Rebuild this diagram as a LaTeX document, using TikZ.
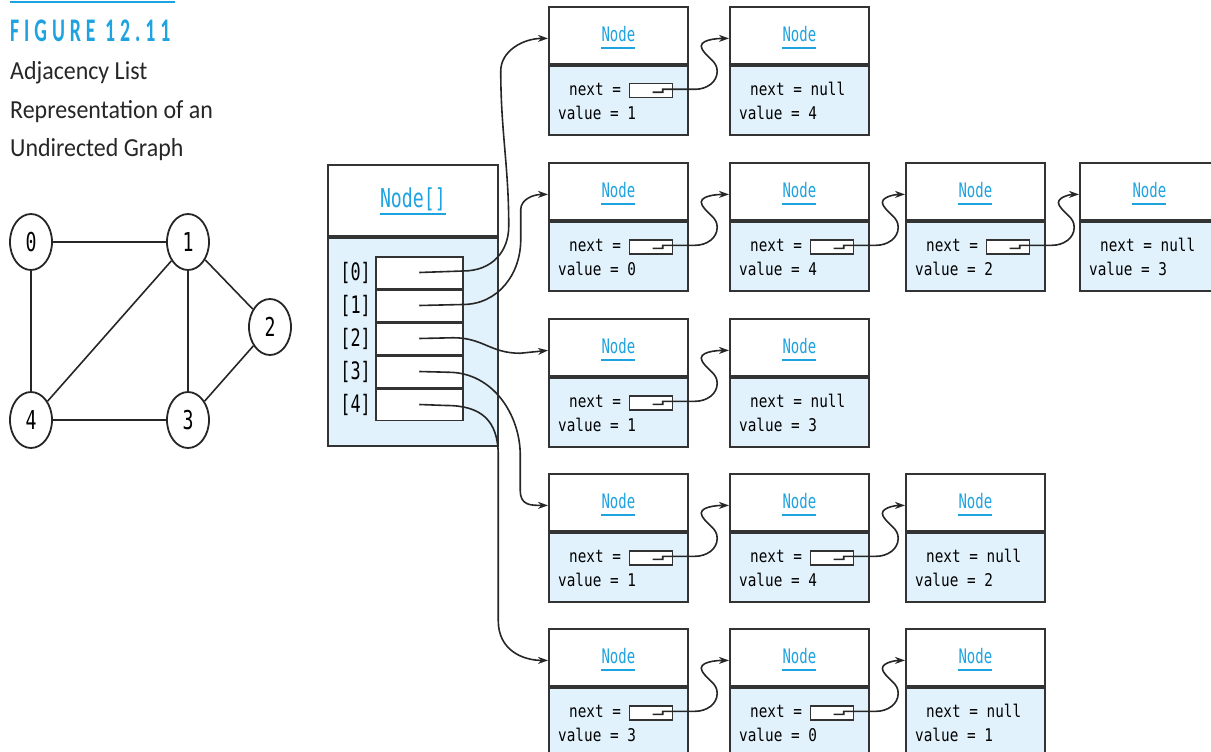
\documentclass[tikz,border=0pt]{standalone}
\usepackage{fontspec}
\usetikzlibrary{shapes.geometric,arrows.meta,calc}

\newfontfamily\codefont{DejaVu Sans Mono}
\newfontfamily\thinmono[FakeStretch=0.7]{DejaVu Sans Mono}
\newfontfamily\fieldmono[FakeStretch=0.82]{DejaVu Sans Mono}
\newfontfamily\capfont[FakeStretch=0.92]{Carlito}
\newfontfamily\figfont[FakeStretch=0.6,LetterSpace=15]{Carlito}

\definecolor{figblue}{HTML}{1FA3E0}
\definecolor{cellfill}{HTML}{E1F2FC}
\definecolor{boxline}{HTML}{333333}

\tikzset{
  hdr/.style={draw=boxline, line width=1.8pt, fill=white, minimum width=139pt,
    minimum height=57pt, inner sep=0pt, anchor=north west},
  bdy/.style={draw=boxline, line width=1.8pt, fill=cellfill, minimum width=139pt,
    minimum height=69pt, inner sep=0pt, anchor=north west},
  ttl/.style={inner sep=0pt, text=figblue, font={\thinmono\fontsize{20}{20}\selectfont}},
  uline/.style={draw=figblue, line width=2pt},
  fld/.style={inner sep=0pt, text height=11pt, text depth=2pt,
    font={\fieldmono\fontsize{17.5}{20}\selectfont}},
  pbox/.style={draw=boxline, line width=1.4pt, fill=white, minimum width=43pt,
    minimum height=14pt, inner sep=0pt, anchor=west},
  ptr/.style={draw=black!85, line width=1.6pt, -{Stealth[length=10pt,width=7pt]}},
  cell/.style={draw=boxline, line width=1.5pt, fill=white, minimum width=87pt,
    minimum height=31.5pt, inner sep=0pt, anchor=north west},
  idx/.style={inner sep=0pt, anchor=east, font={\thinmono\fontsize{24}{24}\selectfont}},
  gnode/.style={ellipse, draw=black!85, line width=1.8pt, fill=white, minimum width=42pt,
    minimum height=56pt, inner sep=0pt, font={\thinmono\fontsize{26}{26}\selectfont}},
  edge/.style={draw=black!85, line width=1.6pt},
  caption/.style={inner sep=0pt, anchor=base west, text=black!85,
    font={\capfont\fontsize{26}{26}\selectfont}},
  figlabel/.style={inner sep=0pt, anchor=base west, text=figblue,
    font={\figfont\bfseries\fontsize{33}{33}\selectfont}},
}

% one list element: #1 id, #2 left, #3 top, #4 value, #5 1 = pointer, 0 = null
\newcommand\listcell[5]{%
  \node[hdr] (h#1) at (#2,-#3) {};
  \node[bdy] (b#1) at (h#1.south west) {};
  \node[ttl] (t#1) at ([yshift=1pt]h#1.center) {Node};
  \draw[uline] ([yshift=-6pt]t#1.base west) -- ([yshift=-6pt]t#1.base east);
  \ifnum#5=1
    \node[fld, anchor=west] (f#1) at ([xshift=21pt,yshift=-26pt]b#1.north west) {next =};
    \node[pbox] (p#1) at ([xshift=81pt,yshift=-26pt]b#1.north west) {};
  \else
    \node[fld, anchor=west] (f#1) at ([xshift=21pt,yshift=-26pt]b#1.north west) {next = null};
  \fi
  \node[fld, anchor=west] (v#1) at ([xshift=10pt,yshift=-50pt]b#1.north west) {value = #4};
}

% link from the pointer box of #1 to the header of #2
\newcommand\nextlink[2]{%
  \draw[ptr] ([xshift=1.5pt,yshift=-1.5pt]p#1.center) -- ++(10,0) -- ++(0,3) -- ++(32.5,0)
    to[out=0,in=-90] ++(22,18) to[out=90,in=-60] ++(-15,22)
    to[out=120,in=180] ([yshift=-3pt]h#2.west);
}

\begin{document}
\begin{tikzpicture}[x=1pt,y=1pt]
\useasboundingbox (0,0) rectangle (1211,-752);

% caption
\draw[figblue, line width=2pt] (10,-2) -- (175,-2);
\node[figlabel] (fig) at (10,-42) {FIGURE 12.11};
\node[caption] (cap1) at (10,-80) {Adjacency List};
\node[caption] (cap2) at (10,-118) {Representation of an};
\node[caption] (cap3) at (10,-157) {Undirected Graph};

% the graph
\node[gnode] (g0) at (31,-242) {0};
\node[gnode] (g1) at (188,-242) {1};
\node[gnode] (g2) at (270,-327) {2};
\node[gnode] (g3) at (188,-420) {3};
\node[gnode] (g4) at (31,-420) {4};
\draw[edge] (g0) -- (g1);
\draw[edge] (g0) -- (g4);
\draw[edge] (g1) -- (g4);
\draw[edge] (g1) -- (g3);
\draw[edge] (g1) -- (g2);
\draw[edge] (g2) -- (g3);
\draw[edge] (g4) -- (g3);

% the array of list heads
\node[hdr, minimum width=170pt, minimum height=71pt] (ah) at (327,-164) {};
\node[bdy, minimum width=170pt, minimum height=208pt] (ab) at (ah.south west) {};
\node[ttl, font={\thinmono\fontsize{26}{26}\selectfont}] (at) at ([yshift=1pt]ah.center) {Node[]};
\draw[uline] ([yshift=-6pt]at.base west) -- ([yshift=-6pt]at.base east);
\node[cell] (c0) at (375,-256) {};
\node[cell] (c1) at (c0.south west) {};
\node[cell] (c2) at (c1.south west) {};
\node[cell] (c3) at (c2.south west) {};
\node[cell] (c4) at (c3.south west) {};
\node[idx] (i0) at ([xshift=-4pt]c0.west) {[0]};
\node[idx] (i1) at ([xshift=-4pt]c1.west) {[1]};
\node[idx] (i2) at ([xshift=-4pt]c2.west) {[2]};
\node[idx] (i3) at ([xshift=-4pt]c3.west) {[3]};
\node[idx] (i4) at ([xshift=-4pt]c4.west) {[4]};

% adjacency lists
\listcell{11}{548}{6}{1}{1}
\listcell{12}{729}{6}{4}{0}

\listcell{21}{548}{162}{0}{1}
\listcell{22}{729}{162}{4}{1}
\listcell{23}{905}{162}{2}{1}
\listcell{24}{1079}{162}{3}{0}

\listcell{31}{548}{318}{1}{1}
\listcell{32}{729}{318}{3}{0}

\listcell{41}{548}{473}{1}{1}
\listcell{42}{729}{473}{4}{1}
\listcell{43}{905}{473}{2}{0}

\listcell{51}{548}{628}{3}{1}
\listcell{52}{729}{628}{0}{1}
\listcell{53}{905}{628}{1}{0}

% links inside each list
\nextlink{11}{12}
\nextlink{21}{22}
\nextlink{22}{23}
\nextlink{23}{24}
\nextlink{31}{32}
\nextlink{41}{42}
\nextlink{42}{43}
\nextlink{51}{52}
\nextlink{52}{53}

% links from the array slots to the list heads
\draw[ptr] (c0.center) -- ++(43.5,1.5)
  .. controls +(30,0) and +(0,-25) .. ++(46,45)
  .. controls +(0,60) and +(0,-60) .. ++(-8,155)
  .. controls +(0,20) and +(-25,0) .. ([yshift=-3pt]h11.west);
\draw[ptr] (c1.center) -- ++(43.5,1)
  .. controls +(35,0) and +(0,-35) .. ++(58,65)
  -- ++(0,30)
  .. controls +(0,10) and +(-15,0) .. ([yshift=-3pt]h21.west);
\draw[ptr] (c2.center) -- ++(34,0.75)
  .. controls +(30,0) and +(-30,0) .. ++(67,-15.5)
  -- ([yshift=-3pt]h31.west);
\draw[ptr] (c3.center) -- ++(29,-0.75)
  .. controls +(45,0) and +(0,40) .. ++(72,-83)
  -- ++(0,-35)
  .. controls +(0,-15) and +(-18,0) .. ([yshift=-3pt]h41.west);
\draw[ptr] (c4.center) -- ++(27,-1)
  .. controls +(35,0) and +(0,35) .. ++(52,-50)
  -- ++(0,-165)
  .. controls +(0,-30) and +(-25,0) .. ([yshift=-3pt]h51.west);
\end{tikzpicture}
\end{document}
